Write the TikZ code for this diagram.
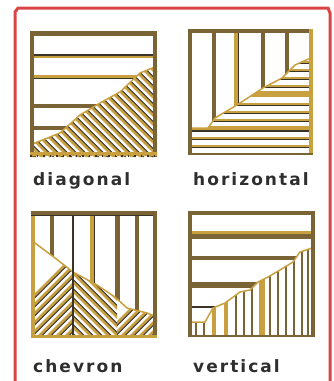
\documentclass[tikz,border=0pt]{standalone}
\usepackage{fontspec}
\setmainfont{DejaVu Sans}[LetterSpace=12]
\usepackage{tikz}

\definecolor{brownln}{HTML}{7A6334}
\definecolor{goldln}{HTML}{C9A040}
\definecolor{darkln}{HTML}{3A3428}
\definecolor{redln}{HTML}{D94545}
\definecolor{txt}{HTML}{2E2E2E}

\begin{document}
\begin{tikzpicture}[
    x=1pt, y=-1pt,
    frame/.style={redln, line width=3pt},
    br/.style={brownln, line width=4.5pt},
    gd/.style={goldln, line width=4.5pt},
    dk/.style={darkln, line width=1.5pt},
    hg/.style={goldln, line width=2.6pt},
    hd/.style={darkln, line width=1.1pt},
    edge/.style={goldln, line width=1.5pt},
    lbl/.style={anchor=base west, inner sep=0pt, text=txt, font=\fontsize{17}{19}\selectfont\bfseries}
]
\useasboundingbox (0,0) rectangle (333,381);

% outer red frame
\draw[frame] (15,381) -- (15,12) -- (18,8) -- (328,8) -- (330,13) -- (330,381);

% ---- diagonal ----
\fill[white] (30,32) rectangle (157,157);
\begin{scope}
  \clip (30,32) -- (157,32) -- (157,66) -- (140,73) -- (120,92) -- (100,103) -- (80,115) -- (60,133) -- (30,145) -- cycle;
  \draw[darkln, line width=2pt] (30,55) -- (157,55);
  \draw[goldln, line width=2pt] (30,57) -- (157,57);
  \draw[goldln, line width=3pt] (30,76) -- (157,76);
  \draw[dk] (30,78.5) -- (157,78.5);
  \draw[br] (30,106) -- (157,106);
  \draw[br] (30,128) -- (157,128);
\end{scope}
\begin{scope}
  \clip (30,157) -- (30,145) -- (60,133) -- (80,115) -- (100,103) -- (120,92) -- (140,73) -- (157,66) -- (157,157) -- cycle;
  \foreach \i in {0,...,30} {
    \pgfmathsetmacro{\xs}{\i*9-130}
    \draw[hg] (\xs,30) -- ++(130,130);
    \draw[hd] (\xs+2.6,30) -- ++(130,130);
  }
\end{scope}
\draw[edge] (30,145) -- (60,133) -- (80,115) -- (100,103) -- (120,92) -- (140,73) -- (157,66);
\draw[br] (32,32) -- (32,157);
\draw[br] (30,33.5) -- (157,33.5);
\draw[br] (155,32) -- (155,157);
\draw[gd] (30,154) -- (157,154);
\draw[darkln, line width=1.5pt, dash pattern=on 1.5pt off 5pt] (30,156) -- (157,156);
\node[lbl] (diag) at (33,185) {diagonal};

% ---- horizontal ----
\fill[white] (188,29) rectangle (313,155);
\begin{scope}
  \clip (188,29) -- (313,29) -- (313,57) -- (295,65) -- (282,78) -- (263,88) -- (237,105) -- (215,118) -- (208,128) -- (188,128) -- cycle;
  \draw[br] (214,29) -- (214,155);
  \draw[gd] (236,29) -- (236,155);
  \draw[dk] (238.5,29) -- (238.5,155);
  \draw[br] (263,29) -- (263,155);
  \draw[br] (287,29) -- (287,155);
\end{scope}
\begin{scope}
  \clip (188,155) -- (188,128) -- (208,128) -- (215,118) -- (237,105) -- (263,88) -- (282,78) -- (295,65) -- (313,57) -- (313,155) -- cycle;
  \foreach \y in {62,70,78,86,104,112,120,138,146} {
    \draw[hg] (188,\y) -- (313,\y);
    \draw[hd] (188,\y+1.8) -- (313,\y+1.8);
  }
  \draw[goldln, line width=6pt] (188,94) -- (313,94);
  \draw[goldln, line width=5pt] (188,128) -- (313,128);
  \draw[hd] (188,131) -- (313,131);
\end{scope}
\draw[edge] (188,128) -- (208,128) -- (215,118) -- (237,105) -- (263,88) -- (282,78) -- (295,65) -- (313,57);
\draw[br] (190,29) -- (190,155);
\draw[br] (188,31) -- (313,31);
\draw[gd] (311,29) -- (311,155);
\draw[brownln, line width=2.5pt] (188,154) -- (313,154);
\node[lbl] (horiz) at (193,185) {horizontal};

% ---- chevron ----
\fill[white] (31,211) rectangle (157,337);
\begin{scope}
  \clip (31,211) -- (157,211) -- (157,317) -- (147,313) -- (127,308) -- (115,297) -- (97,285) -- (73,272) -- (55,258) -- (35,243) -- (31,243) -- cycle;
  \draw[br] (52,211) -- (52,337);
  \draw[gd] (92,211) -- (92,337);
  \draw[dk] (94.5,211) -- (94.5,337);
  \draw[brownln, line width=5pt] (117,211) -- (117,337);
  \draw[br] (137,211) -- (137,337);
\end{scope}
\begin{scope}
  \clip (31,337) -- (31,243) -- (35,243) -- (55,258) -- (73,272) -- (97,285) -- (115,297) -- (127,308) -- (147,313) -- (157,317) -- (157,337) -- cycle;
  \begin{scope}
    \clip (31,211) rectangle (73,337);
    \foreach \i in {0,...,16} {
      \pgfmathsetmacro{\xs}{\i*9-10}
      \draw[hg] (\xs,340) -- ++(120,-120);
      \draw[hd] (\xs+2.6,340) -- ++(120,-120);
    }
  \end{scope}
  \begin{scope}
    \clip (73,211) rectangle (117,337);
    \foreach \i in {0,...,16} {
      \pgfmathsetmacro{\xs}{\i*9-60}
      \draw[hg] (\xs,230) -- ++(120,120);
      \draw[hd] (\xs+2.6,230) -- ++(120,120);
    }
  \end{scope}
  \begin{scope}
    \clip (117,211) rectangle (157,337);
    \foreach \i in {0,...,16} {
      \pgfmathsetmacro{\xs}{\i*9+100}
      \draw[hg] (\xs,340) -- ++(120,-120);
      \draw[hd] (\xs+2.6,340) -- ++(120,-120);
    }
  \end{scope}
\end{scope}
\draw[edge] (31,243) -- (35,243) -- (55,258) -- (73,272) -- (97,285) -- (115,297) -- (127,308) -- (147,313) -- (157,317);
\draw[darkln, line width=2pt] (73,211) -- (73,337);
\draw[gd] (33,211) -- (33,337);
\draw[br] (31,213) -- (157,213);
\draw[darkln, line width=1.5pt] (31,215.5) -- (157,215.5);
\draw[br] (155,211) -- (155,337);
\draw[goldln, line width=3pt] (31,336) -- (157,336);
\node[lbl] (chev) at (33,372) {chevron};

% ---- vertical ----
\fill[white] (188,211) rectangle (315,337);
\begin{scope}
  \clip (188,211) -- (315,211) -- (315,247) -- (300,252) -- (293,262) -- (280,270) -- (268,277) -- (258,282) -- (250,290) -- (240,292) -- (225,303) -- (213,308) -- (205,322) -- (188,322) -- cycle;
  \draw[gd] (188,233) -- (315,233);
  \draw[br] (188,236.5) -- (315,236.5);
  \draw[br] (188,258) -- (315,258);
  \draw[brownln, line width=5.5pt] (188,285) -- (315,285);
  \draw[darkln, line width=2.5pt] (188,307) -- (315,307);
\end{scope}
\begin{scope}
  \clip (188,337) -- (188,322) -- (205,322) -- (213,308) -- (225,303) -- (240,292) -- (250,290) -- (258,282) -- (268,277) -- (280,270) -- (293,262) -- (300,252) -- (315,247) -- (315,337) -- cycle;
  \foreach \x in {196,204,236,244,252,270,278,286,294,302,308} {
    \draw[brownln, line width=2pt] (\x,211) -- (\x,337);
  }
  \draw[goldln, line width=4.5pt] (214,211) -- (214,337);
  \draw[goldln, line width=4.5pt] (226,211) -- (226,337);
  \draw[goldln, line width=5.5pt] (262,211) -- (262,337);
\end{scope}
\draw[edge] (188,322) -- (205,322) -- (213,308) -- (225,303) -- (240,292) -- (250,290) -- (258,282) -- (268,277) -- (280,270) -- (293,262) -- (300,252) -- (315,247);
\draw[br] (190,211) -- (190,337);
\draw[br] (188,213) -- (315,213);
\draw[br] (313,211) -- (313,337);
\draw[brownln, line width=2.5pt] (188,336) -- (315,336);
\node[lbl] (vert) at (193,372) {vertical};
\end{tikzpicture}
\end{document}
